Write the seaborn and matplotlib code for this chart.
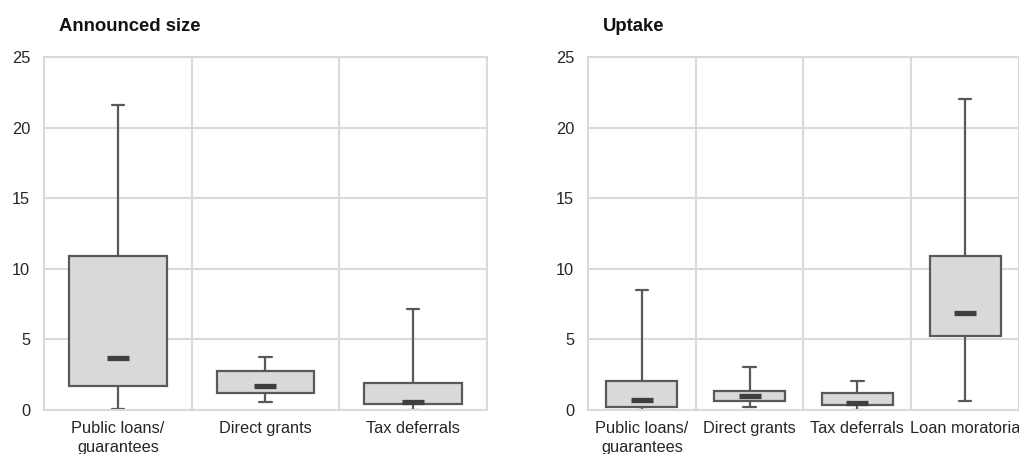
import numpy as np
import pandas as pd
import matplotlib
matplotlib.use("Agg")
import matplotlib.pyplot as plt
import seaborn as sns

sns.set_style("white")
plt.rcParams["font.family"] = ["Liberation Sans", "DejaVu Sans"]

# Five-number summaries (min, lower quartile, median, upper quartile, max)
announced_categories = ["Public loans/\nguarantees", "Direct grants", "Tax deferrals"]
announced_min = [0.1, 0.55, 0.02]
announced_q1 = [1.68, 1.2, 0.4]
announced_median = [3.7, 1.72, 0.55]
announced_q3 = [10.9, 2.76, 1.89]
announced_max = [21.6, 3.75, 7.13]

uptake_categories = ["Public loans/\nguarantees", "Direct grants", "Tax deferrals", "Loan moratoria"]
uptake_min = [0.02, 0.24, 0.02, 0.64]
uptake_q1 = [0.21, 0.64, 0.35, 5.26]
uptake_median = [0.73, 1.01, 0.52, 6.87]
uptake_q3 = [2.08, 1.35, 1.23, 10.9]
uptake_max = [8.52, 3.07, 2.05, 22.05]

y_ticks = [0, 5, 10, 15, 20, 25]

BOX_FILL = "#d9d9d9"
EDGE = "#595959"
MEDIAN = "#3f3f3f"
GRID = "#dadada"
TEXT = "#262626"


def draw_panel(ax, title, cats, mins, q1s, meds, q3s, maxs):
    values = np.column_stack([mins, q1s, meds, q3s, maxs]).ravel()
    df = pd.DataFrame({"category": np.repeat(cats, 5), "value": values})
    sns.boxplot(
        data=df, x="category", y="value", order=cats, ax=ax,
        whis=(0, 100), width=0.66, color=BOX_FILL, saturation=1,
        linecolor=EDGE, linewidth=1.6, showfliers=False,
        medianprops=dict(color=MEDIAN, linewidth=3.8, gid="median",
                         solid_capstyle="butt"),
        capprops=dict(gid="cap"),
    )
    fig = ax.figure
    n = len(cats)
    width_px = ax.get_position().width * fig.get_figwidth() * fig.dpi
    unit_px = width_px / n
    # short median bars and caps of fixed pixel length
    for line in ax.lines:
        gid = line.get_gid()
        if gid in ("median", "cap"):
            xd = np.asarray(line.get_xdata(), float)
            c = xd.mean()
            half = (11.0 if gid == "median" else 6.3) / unit_px
            line.set_xdata([c - half, c + half])

    ax.set_xlim(-0.5, n - 0.5)
    ax.set_ylim(0, 25)
    ax.set_yticks(y_ticks)
    ax.set_xticks(np.arange(0.5, n - 0.5), minor=True)
    ax.grid(axis="y", which="major", color=GRID, linewidth=1.5)
    ax.grid(axis="x", which="minor", color=GRID, linewidth=1.5)
    ax.set_axisbelow(True)
    ax.tick_params(which="both", length=0, colors=TEXT)
    ax.tick_params(axis="y", pad=10, labelsize=11.8)
    ax.tick_params(axis="x", pad=8, labelsize=11.8)
    for lab in ax.get_xticklabels():
        lab.set_linespacing(1.3)
    for s in ax.spines.values():
        s.set_visible(True)
        s.set_color(GRID)
        s.set_linewidth(1.5)
    ax.set_xlabel("")
    ax.set_ylabel("")
    ax.text(0.034, 1.075, title, transform=ax.transAxes, fontsize=13.3,
            fontweight="bold", va="baseline", ha="left", color="#111111")


fig = plt.figure(figsize=(10.2, 4.54), dpi=100)
ax1 = fig.add_axes([44 / 1020, 1 - 410 / 454, 443 / 1020, 353 / 454])
ax2 = fig.add_axes([588 / 1020, 1 - 410 / 454, 431 / 1020, 353 / 454])

draw_panel(ax1, "Announced size", announced_categories, announced_min,
           announced_q1, announced_median, announced_q3, announced_max)
draw_panel(ax2, "Uptake", uptake_categories, uptake_min,
           uptake_q1, uptake_median, uptake_q3, uptake_max)

fig.savefig("out.png", dpi=100)
